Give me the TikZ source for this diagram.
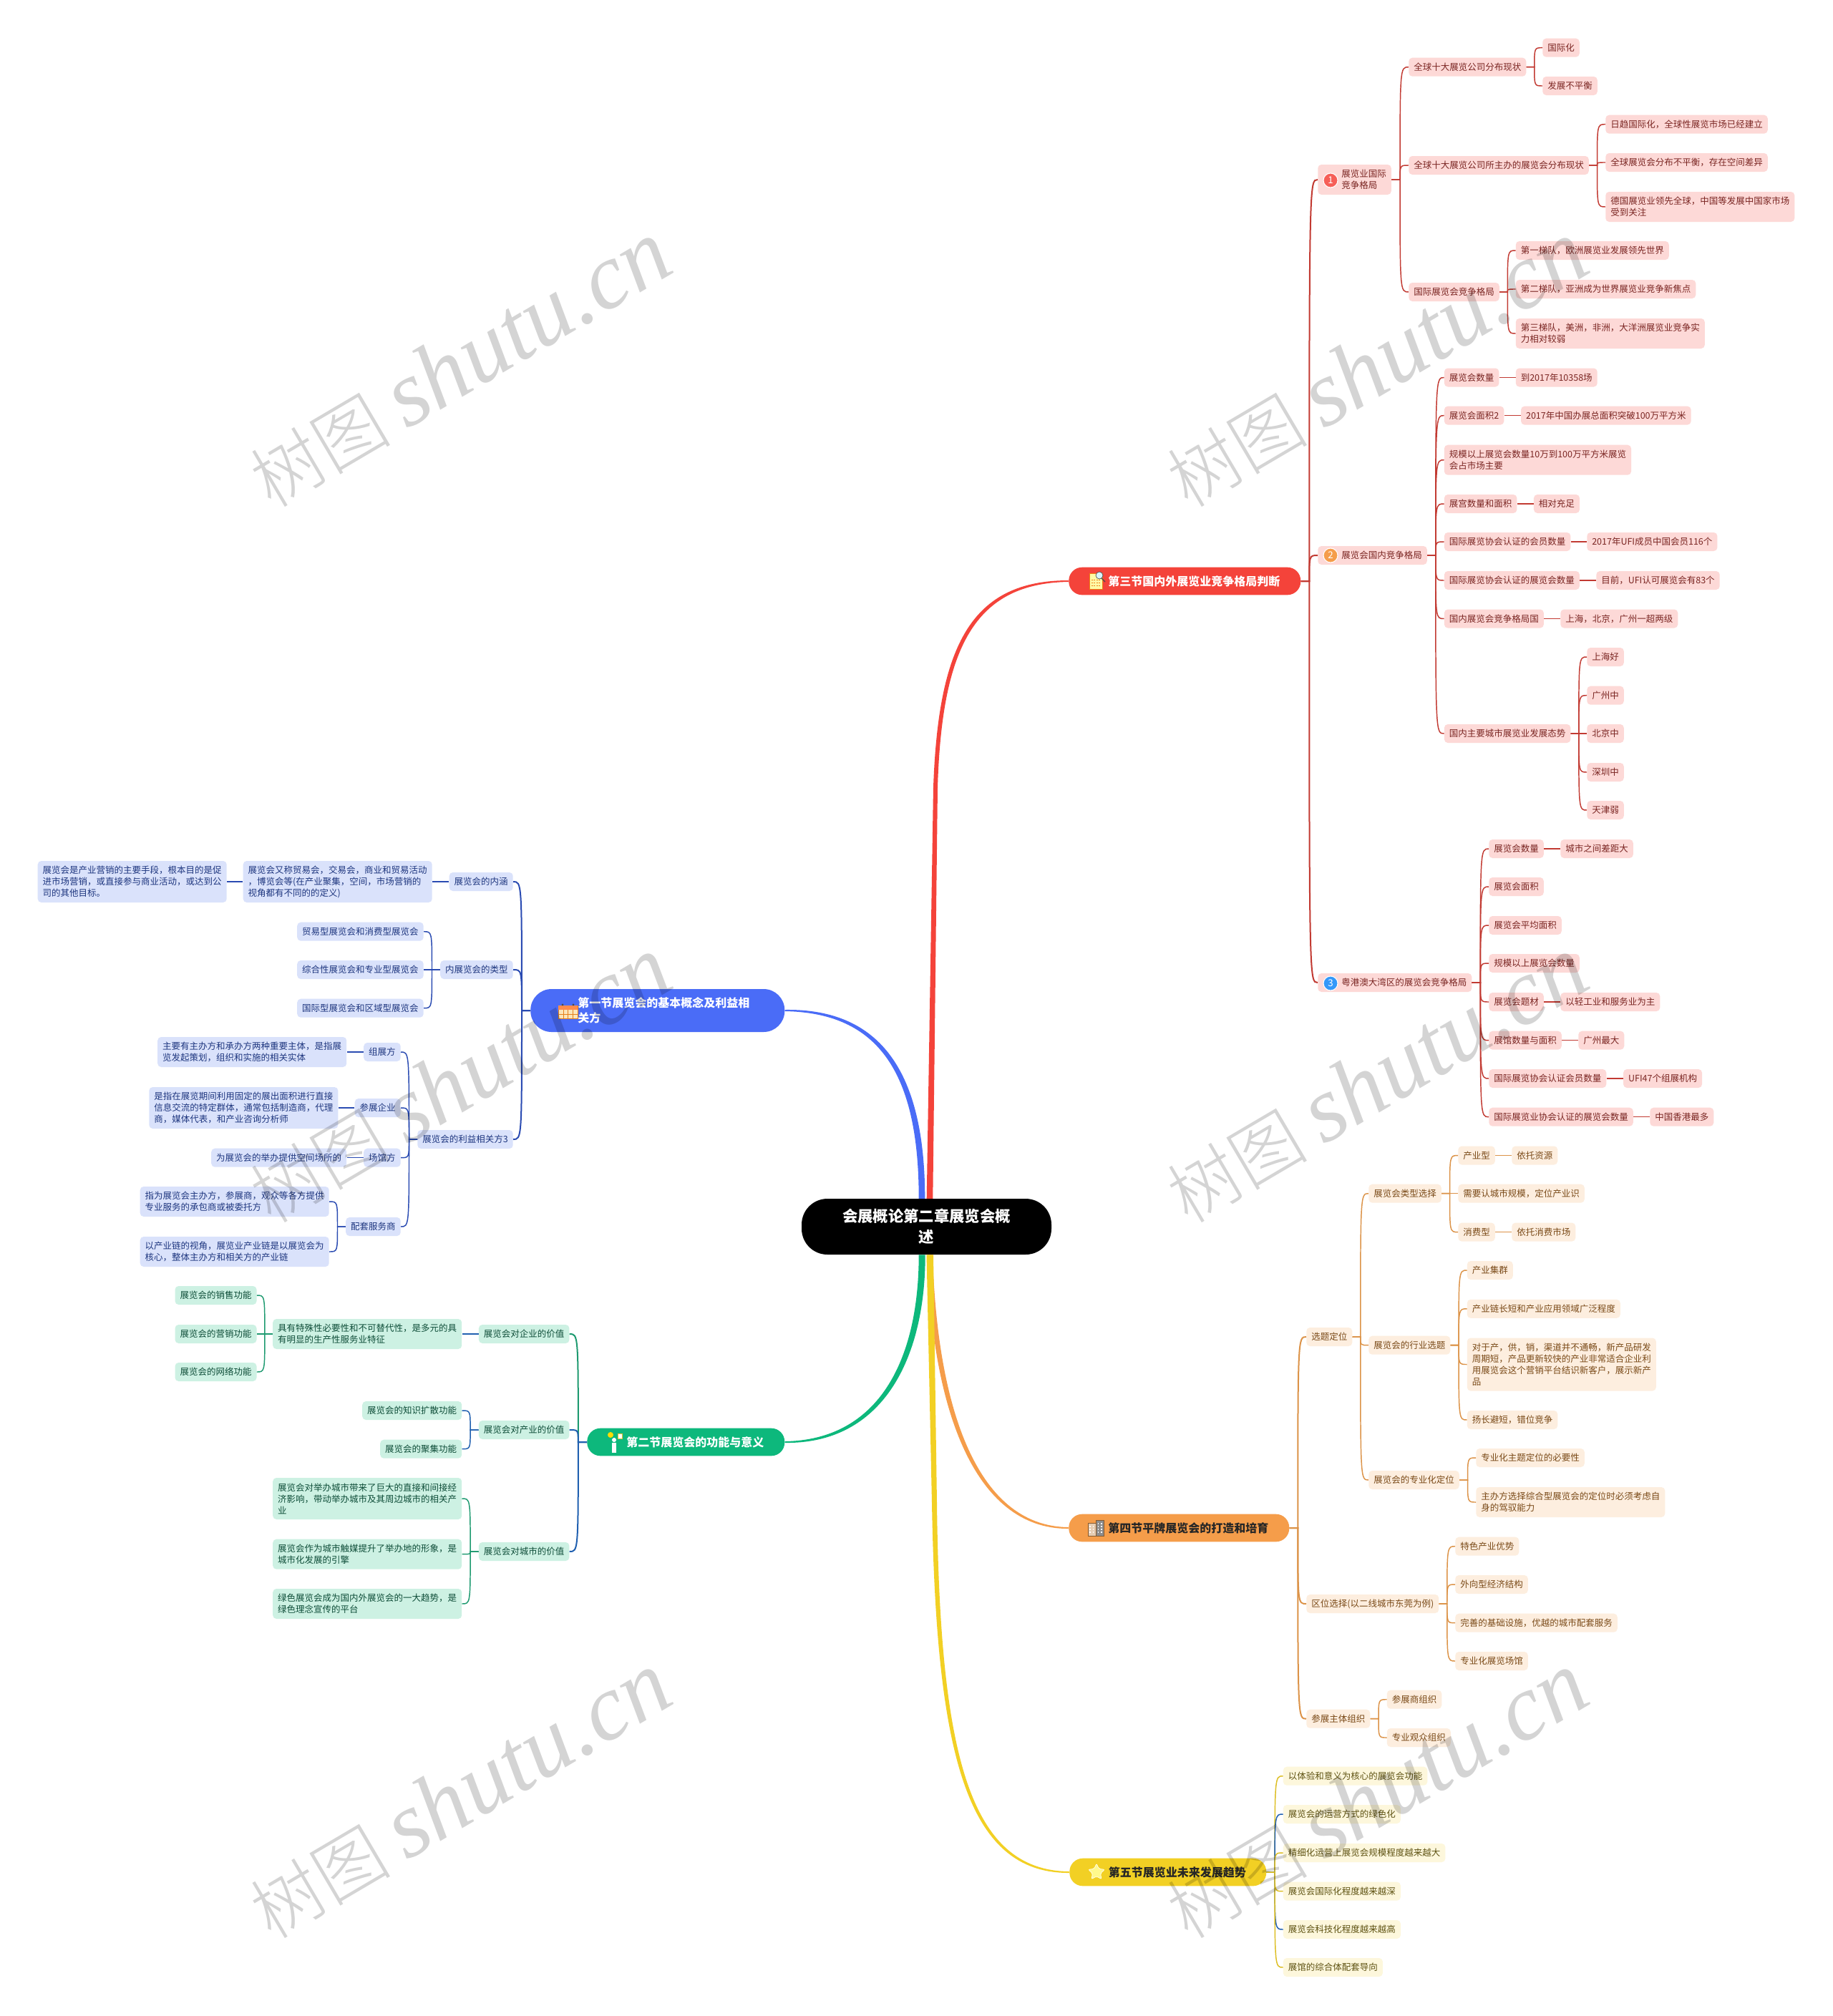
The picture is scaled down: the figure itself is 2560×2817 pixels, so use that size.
\documentclass[tikz,border=0pt]{standalone}
\usepackage{fontspec}
\setmainfont{Noto Sans CJK SC}
\newfontfamily\wmlatin{Liberation Serif}
\newfontfamily\wmcjk{Noto Sans CJK SC}[UprightFont=* Light]
\usetikzlibrary{calc,shapes.geometric}
\lineskiplimit=-20pt
\definecolor{redfill}{HTML}{FDD9D7}
\definecolor{redtext}{HTML}{7A2522}
\definecolor{redline}{HTML}{C23A32}
\definecolor{redmain}{HTML}{F4433A}
\definecolor{orangefill}{HTML}{FDEEDF}
\definecolor{orangetext}{HTML}{7A4A18}
\definecolor{orangeline}{HTML}{DC9348}
\definecolor{orangemain}{HTML}{F59D4A}
\definecolor{yellowfill}{HTML}{FDF7DC}
\definecolor{yellowtext}{HTML}{5E5212}
\definecolor{yellowline}{HTML}{DDBE22}
\definecolor{yellowmain}{HTML}{F2D024}
\definecolor{bluefill}{HTML}{DAE2FB}
\definecolor{bluetext}{HTML}{1E367F}
\definecolor{blueline}{HTML}{2A4BB2}
\definecolor{bluemain}{HTML}{4A6CF7}
\definecolor{navyline}{HTML}{2060B0}
\definecolor{greenfill}{HTML}{CDF1E3}
\definecolor{greentext}{HTML}{0E4D38}
\definecolor{greenline}{HTML}{1E9A70}
\definecolor{greenmain}{HTML}{0DB87C}
\newcommand{\rlink}[3]{%
  \path (#2.east) -- (#3.west |- #2.east) coordinate[midway] (mid);
  \draw [#1] (#2.east) -- (mid) .. controls (mid |- #3.west) and (mid |- #3.west) .. (#3.west);
}
\newcommand{\llink}[3]{%
  \path (#2.west) -- (#3.east |- #2.west) coordinate[midway] (mid);
  \draw [#1] (#2.west) -- (mid) .. controls (mid |- #3.east) and (mid |- #3.east) .. (#3.east);
}
\newcommand{\padicon}{\hspace*{19.5pt}}
\newcommand{\wmtext}{{\wmcjk 树图}\hspace{16pt}{\wmlatin\itshape\fontsize{98pt}{98pt}\selectfont shutu.cn}}
\begin{document}
\begin{tikzpicture}[x=0.75pt,y=0.75pt,yscale=-1,xscale=1,
    box/.style={rectangle,rounded corners=3.75pt,inner xsep=5.25pt,inner ysep=0pt,minimum height=19.5pt,align=left,font=\fontsize{9.375pt}{12pt}\selectfont},
    redbox/.style={box,anchor=west,fill=redfill,text=redtext},
    orangebox/.style={box,anchor=west,fill=orangefill,text=orangetext},
    yellowbox/.style={box,anchor=west,fill=yellowfill,text=yellowtext},
    bluebox/.style={box,anchor=east,fill=bluefill,text=bluetext},
    greenbox/.style={box,anchor=east,fill=greenfill,text=greentext},
    lines2/.style={minimum height=31.5pt},
    lines3/.style={minimum height=43.5pt},
    lines4/.style={minimum height=55.5pt},
    section/.style={rectangle,rounded corners=14pt,anchor=west,inner sep=0pt,minimum height=29pt,align=left,text=white,font=\fontsize{12pt}{15.75pt}\selectfont\bfseries},
    badge/.style={circle,draw=white,line width=0.8pt,inner sep=0pt,minimum size=15pt,text=white,font=\fontsize{10pt}{10pt}\selectfont},
    redlink/.style={line width=1.1pt,color=redline},
    orangelink/.style={line width=1.1pt,color=orangeline},
    yellowlink/.style={line width=1.1pt,color=yellowline},
    bluelink/.style={line width=1.1pt,color=blueline},
    greenlink/.style={line width=1.1pt,color=greenline},
    navylink/.style={line width=1.1pt,color=navyline},
    trunk/.style={line width=1.5pt},
    watermark/.style={rotate=30.5,inner sep=0pt,text=black,text opacity=0.17,font=\fontsize{74pt}{74pt}\selectfont}]
\useasboundingbox (0,0) rectangle (2560,2817);
\fill [white] (0,0) rectangle (2560,2817);
% centre and sections
\draw (1294.5,1714) node (root) [rectangle,rounded corners=27pt,fill=black,text=white,inner sep=0pt,minimum width=261.75pt,minimum height=58.5pt,align=center,font=\fontsize{16pt}{22pt}\selectfont\bfseries] {会展概论第二章展览会概\\述};
\draw (741,1412) node (secone) [section,rounded corners=22pt,fill=bluemain,minimum width=266.25pt,minimum height=45pt] {\hspace*{12.75pt}第一节展览会的基本概念及利益相\\\hspace*{12.75pt}关方};
\draw (820,2015) node (sectwo) [section,fill=greenmain,minimum width=207pt] {\hspace*{19.5pt}第二节展览会的功能与意义};
\draw (1493,812) node (secthree) [section,fill=redmain,minimum width=243pt] {\hspace*{19.5pt}第三节国内外展览业竞争格局判断};
\draw (1493,2135) node (secfour) [section,fill=orangemain,text=black!85,minimum width=231pt] {\hspace*{19.5pt}第四节平牌展览会的打造和培育};
\draw (1494,2616) node (secfive) [section,fill=yellowmain,text=black!85,minimum width=206.25pt] {\hspace*{19.5pt}第五节展览业未来发展趋势};
% red branch
\draw (1841,251) node (r1) [redbox,lines2] {\padicon 展览业国际\\\padicon 竞争格局};
\draw (1968,93.7) node (r1a) [redbox] {全球十大展览公司分布现状};
\draw (2155,66.7) node (r1a1) [redbox] {国际化};
\draw (2155,120) node (r1a2) [redbox] {发展不平衡};
\draw (1968,231) node (r1b) [redbox] {全球十大展览公司所主办的展览会分布现状};
\draw (2243,173.7) node (r1b1) [redbox] {日趋国际化，全球性展览市场已经建立};
\draw (2243,227) node (r1b2) [redbox] {全球展览会分布不平衡，存在空间差异};
\draw (2243,289) node (r1b3) [redbox,lines2] {德国展览业领先全球，中国等发展中国家市场\\受到关注};
\draw (1968,408) node (r1c) [redbox] {国际展览会竞争格局};
\draw (2117.5,350) node (r1c1) [redbox] {第一梯队，欧洲展览业发展领先世界};
\draw (2117.5,404) node (r1c2) [redbox] {第二梯队，亚洲成为世界展览业竞争新焦点};
\draw (2117.5,466) node (r1c3) [redbox,lines2] {第三梯队，美洲，非洲，大洋洲展览业竞争实\\力相对较弱};
\draw (1841,776) node (r2) [redbox] {\padicon 展览会国内竞争格局};
\draw (2017.6,527.5) node (r2a) [redbox] {展览会数量};
\draw (2117.5,527.5) node (r2a1) [redbox] {到2017年10358场};
\draw (2017.6,580.6) node (r2b) [redbox] {展览会面积2};
\draw (2124.8,580.6) node (r2b1) [redbox] {2017年中国办展总面积突破100万平方米};
\draw (2017.6,642.7) node (r2c) [redbox,lines2] {规模以上展览会数量10万到100万平方米展览\\会占市场主要};
\draw (2017.6,704) node (r2d) [redbox] {展宫数量和面积};
\draw (2142.7,704) node (r2d1) [redbox] {相对充足};
\draw (2017.6,757) node (r2e) [redbox] {国际展览协会认证的会员数量};
\draw (2217,757) node (r2e1) [redbox] {2017年UFI成员中国会员116个};
\draw (2017.6,811) node (r2f) [redbox] {国际展览协会认证的展览会数量};
\draw (2230,811) node (r2f1) [redbox] {目前，UFI认可展览会有83个};
\draw (2017.6,864.5) node (r2g) [redbox] {国内展览会竞争格局国};
\draw (2180,864.5) node (r2g1) [redbox] {上海，北京，广州一超两级};
\draw (2017.6,1025) node (r2h) [redbox] {国内主要城市展览业发展态势};
\draw (2217,918) node (r2h1) [redbox] {上海好};
\draw (2217,971.7) node (r2h2) [redbox] {广州中};
\draw (2217,1025) node (r2h3) [redbox] {北京中};
\draw (2217,1079) node (r2h4) [redbox] {深圳中};
\draw (2217,1132) node (r2h5) [redbox] {天津弱};
\draw (1841,1373) node (r3) [redbox] {\padicon 粤港澳大湾区的展览会竞争格局};
\draw (2080,1186) node (r3a) [redbox] {展览会数量};
\draw (2180,1186) node (r3a1) [redbox] {城市之间差距大};
\draw (2080,1239) node (r3b) [redbox] {展览会面积};
\draw (2080,1293) node (r3c) [redbox] {展览会平均面积};
\draw (2080,1346) node (r3d) [redbox] {规模以上展览会数量};
\draw (2080,1400) node (r3e) [redbox] {展览会题材};
\draw (2180,1400) node (r3e1) [redbox] {以轻工业和服务业为主};
\draw (2080,1453.7) node (r3f) [redbox] {展馆数量与面积};
\draw (2205,1453.7) node (r3f1) [redbox] {广州最大};
\draw (2080,1507) node (r3g) [redbox] {国际展览协会认证会员数量};
\draw (2267.8,1507) node (r3g1) [redbox] {UFI47个组展机构};
\draw (2080,1560.7) node (r3h) [redbox] {国际展览业协会认证的展览会数量};
\draw (2305,1560.7) node (r3h1) [redbox] {中国香港最多};
\draw (1859,252) node (badgeone) [badge,fill=redmain!85!white] {1};
\draw (1859,776) node (badgetwo) [badge,fill=orangemain] {2};
\draw (1859,1374) node (badgethree) [badge,fill=bluemain!70!cyan] {3};
% orange branch
\draw (1825,1868) node (o1) [orangebox] {选题定位};
\draw (1912,1667.7) node (o1a) [orangebox] {展览会类型选择};
\draw (2037,1614.5) node (o1a1) [orangebox] {产业型};
\draw (2112,1614.5) node (o1a1x) [orangebox] {依托资源};
\draw (2037,1667.7) node (o1a2) [orangebox] {需要认城市规模，定位产业识};
\draw (2037,1721.6) node (o1a3) [orangebox] {消费型};
\draw (2112,1721.6) node (o1a3x) [orangebox] {依托消费市场};
\draw (1912,1879.7) node (o1b) [orangebox] {展览会的行业选题};
\draw (2049.5,1775) node (o1b1) [orangebox] {产业集群};
\draw (2049.5,1828.8) node (o1b2) [orangebox] {产业链长短和产业应用领域广泛程度};
\draw (2049.5,1906.5) node (o1b3) [orangebox,lines4] {对于产，供，销，渠道并不通畅，新产品研发\\周期短，产品更新较快的产业非常适合企业利\\用展览会这个营销平台结识新客户，展示新产\\品};
\draw (2049.5,1984) node (o1b4) [orangebox] {扬长避短，错位竞争};
\draw (1912,2068) node (o1c) [orangebox] {展览会的专业化定位};
\draw (2062,2037) node (o1c1) [orangebox] {专业化主题定位的必要性};
\draw (2062,2099) node (o1c2) [orangebox,lines2] {主办方选择综合型展览会的定位时必须考虑自\\身的驾驭能力};
\draw (1825,2241) node (o2) [orangebox] {区位选择(以二线城市东莞为例)};
\draw (2033,2160.7) node (o2a) [orangebox] {特色产业优势};
\draw (2033,2214) node (o2b) [orangebox] {外向型经济结构};
\draw (2033,2267.7) node (o2c) [orangebox] {完善的基础设施，优越的城市配套服务};
\draw (2033,2321) node (o2d) [orangebox] {专业化展览场馆};
\draw (1825,2401.7) node (o3) [orangebox] {参展主体组织};
\draw (1937.5,2374.7) node (o3a) [orangebox] {参展商组织};
\draw (1937.5,2428) node (o3b) [orangebox] {专业观众组织};
% yellow branch
\draw (1792.6,2481.7) node (y1) [yellowbox] {以体验和意义为核心的展览会功能};
\draw (1792.6,2535) node (y2) [yellowbox] {展览会的运营方式的绿色化};
\draw (1792.6,2589) node (y3) [yellowbox] {精细化运营上展览会规模程度越来越大};
\draw (1792.6,2642.7) node (y4) [yellowbox] {展览会国际化程度越来越深};
\draw (1792.6,2696) node (y5) [yellowbox] {展览会科技化程度越来越高};
\draw (1792.6,2749) node (y6) [yellowbox] {展馆的综合体配套导向};
% blue branch
\draw (717,1232) node (b1) [bluebox] {展览会的内涵};
\draw (604,1232) node (b1a) [bluebox,lines3] {展览会又称贸易会，交易会，商业和贸易活动\\，博览会等(在产业聚集，空间，市场营销的\\视角都有不同的的定义)};
\draw (317,1232) node (b1a1) [bluebox,lines3] {展览会是产业营销的主要手段，根本目的是促\\进市场营销，或直接参与商业活动，或达到公\\司的其他目标。};
\draw (717,1355) node (b2) [bluebox] {内展览会的类型};
\draw (592,1301.7) node (b2a) [bluebox] {贸易型展览会和消费型展览会};
\draw (592,1355) node (b2b) [bluebox] {综合性展览会和专业型展览会};
\draw (592,1408.7) node (b2c) [bluebox] {国际型展览会和区域型展览会};
\draw (717,1592) node (b3) [bluebox] {展览会的利益相关方3};
\draw (560,1470) node (b3a) [bluebox] {组展方};
\draw (484.5,1470) node (b3a1) [bluebox,lines2] {主要有主办方和承办方两种重要主体，是指展\\览发起策划，组织和实施的相关实体};
\draw (560,1548) node (b3b) [bluebox] {参展企业};
\draw (472.6,1548) node (b3b1) [bluebox,lines3] {是指在展览期间利用固定的展出面积进行直接\\信息交流的特定群体，通常包括制造商，代理\\商，媒体代表，和产业咨询分析师};
\draw (560,1617.7) node (b3c) [bluebox] {场馆方};
\draw (484.5,1617.7) node (b3c1) [bluebox] {为展览会的举办提供空间场所的};
\draw (560,1714) node (b3d) [bluebox] {配套服务商};
\draw (460,1679) node (b3d1) [bluebox,lines2] {指为展览会主办方，参展商，观众等各方提供\\专业服务的承包商或被委托方};
\draw (460,1749) node (b3d2) [bluebox,lines2] {以产业链的视角，展览业产业链是以展览会为\\核心，整体主办方和相关方的产业链};
% green branch
\draw (795.7,1864) node (g1) [greenbox] {展览会对企业的价值};
\draw (645.5,1864) node (g1a) [greenbox,lines2] {具有特殊性必要性和不可替代性，是多元的具\\有明显的生产性服务业特征};
\draw (358.8,1810) node (g1a1) [greenbox] {展览会的销售功能};
\draw (358.8,1864) node (g1a2) [greenbox] {展览会的营销功能};
\draw (358.8,1917) node (g1a3) [greenbox] {展览会的网络功能};
\draw (795.7,1998) node (g2) [greenbox] {展览会对产业的价值};
\draw (645.5,1971) node (g2a) [greenbox] {展览会的知识扩散功能};
\draw (645.5,2024.7) node (g2b) [greenbox] {展览会的聚集功能};
\draw (795.7,2168) node (g3) [greenbox] {展览会对城市的价值};
\draw (645.5,2094) node (g3a) [greenbox,lines3] {展览会对举办城市带来了巨大的直接和间接经\\济影响，带动举办城市及其周边城市的相关产\\业};
\draw (645.5,2171.7) node (g3b) [greenbox,lines2] {展览会作为城市触媒提升了举办地的形象，是\\城市化发展的引擎};
\draw (645.5,2241) node (g3c) [greenbox,lines2] {绿色展览会成为国内外展览会的一大趋势，是\\绿色理念宣传的平台};
% tapered main links
\fill [color=orangemain] ($(root.south)+(1.5,0)$) .. controls (1301,1960) and (1358,2137) .. ($(secfour.west)+(0,1)$) -- ($(secfour.west)+(0,-1)$) .. controls (1362,2133) and (1309,1960) .. ($(root.south)+(8.5,0)$) -- cycle;
\fill [color=yellowmain] ($(root.south)+(0,0)$) -- (1302,2100) .. controls (1308,2450) and (1350,2618) .. ($(secfive.west)+(0,1)$) -- ($(secfive.west)+(0,-1)$) .. controls (1354,2614) and (1313,2450) .. (1309,2100) -- ($(root.south)+(9.5,0)$) -- cycle;
\fill [color=bluemain] ($(secone.east)+(0,1)$) .. controls (1228,1415) and (1283.7,1500) .. ($(root.north)+(-10.8,0)$) -- ($(root.north)+(-2.2,0)$) .. controls (1292.3,1500) and (1232,1409) .. ($(secone.east)+(0,-1)$) -- cycle;
\fill [color=greenmain] ($(sectwo.east)+(0,-1)$) .. controls (1228,2012) and (1283.7,1900) .. ($(root.south)+(-10.8,0)$) -- ($(root.south)+(-1.8,0)$) .. controls (1293,1900) and (1232,2018) .. ($(sectwo.east)+(0,1)$) -- cycle;
\fill [color=redmain] ($(root.north)+(0.2,0)$) -- (1304,1100) .. controls (1311,900) and (1358,811) .. ($(secthree.west)+(0,-1)$) -- ($(secthree.west)+(0,1)$) .. controls (1362,815) and (1316,904) .. (1310,1100) -- ($(root.north)+(8.8,0)$) -- cycle;
% links
\rlink{redlink,trunk}{secthree}{r1}
\rlink{redlink,trunk}{secthree}{r2}
\rlink{redlink,trunk}{secthree}{r3}
\rlink{redlink}{r1}{r1a}
\rlink{redlink}{r1}{r1b}
\rlink{redlink}{r1}{r1c}
\rlink{redlink}{r1a}{r1a1}
\rlink{redlink}{r1a}{r1a2}
\rlink{redlink}{r1b}{r1b1}
\rlink{redlink}{r1b}{r1b2}
\rlink{redlink}{r1b}{r1b3}
\rlink{redlink}{r1c}{r1c1}
\rlink{redlink}{r1c}{r1c2}
\rlink{redlink}{r1c}{r1c3}
\rlink{redlink}{r2}{r2a}
\rlink{redlink}{r2}{r2b}
\rlink{redlink}{r2}{r2c}
\rlink{redlink}{r2}{r2d}
\rlink{redlink}{r2}{r2e}
\rlink{redlink}{r2}{r2f}
\rlink{redlink}{r2}{r2g}
\rlink{redlink}{r2}{r2h}
\rlink{redlink}{r2a}{r2a1}
\rlink{redlink}{r2b}{r2b1}
\rlink{redlink}{r2d}{r2d1}
\rlink{redlink}{r2e}{r2e1}
\rlink{redlink}{r2f}{r2f1}
\rlink{redlink}{r2g}{r2g1}
\rlink{redlink}{r2h}{r2h1}
\rlink{redlink}{r2h}{r2h2}
\rlink{redlink}{r2h}{r2h3}
\rlink{redlink}{r2h}{r2h4}
\rlink{redlink}{r2h}{r2h5}
\rlink{redlink}{r3}{r3a}
\rlink{redlink}{r3}{r3b}
\rlink{redlink}{r3}{r3c}
\rlink{redlink}{r3}{r3d}
\rlink{redlink}{r3}{r3e}
\rlink{redlink}{r3}{r3f}
\rlink{redlink}{r3}{r3g}
\rlink{redlink}{r3}{r3h}
\rlink{redlink}{r3a}{r3a1}
\rlink{redlink}{r3e}{r3e1}
\rlink{redlink}{r3f}{r3f1}
\rlink{redlink}{r3g}{r3g1}
\rlink{redlink}{r3h}{r3h1}
\rlink{orangelink,trunk}{secfour}{o1}
\rlink{orangelink,trunk}{secfour}{o2}
\rlink{orangelink,trunk}{secfour}{o3}
\rlink{orangelink}{o1}{o1a}
\rlink{orangelink}{o1}{o1b}
\rlink{orangelink}{o1}{o1c}
\rlink{orangelink}{o1a}{o1a1}
\rlink{orangelink}{o1a}{o1a2}
\rlink{orangelink}{o1a}{o1a3}
\rlink{orangelink}{o1a1}{o1a1x}
\rlink{orangelink}{o1a3}{o1a3x}
\rlink{orangelink}{o1b}{o1b1}
\rlink{orangelink}{o1b}{o1b2}
\rlink{orangelink}{o1b}{o1b3}
\rlink{orangelink}{o1b}{o1b4}
\rlink{orangelink}{o1c}{o1c1}
\rlink{orangelink}{o1c}{o1c2}
\rlink{orangelink}{o2}{o2a}
\rlink{orangelink}{o2}{o2b}
\rlink{orangelink}{o2}{o2c}
\rlink{orangelink}{o2}{o2d}
\rlink{orangelink}{o3}{o3a}
\rlink{orangelink}{o3}{o3b}
\rlink{yellowlink}{secfive}{y1}
\rlink{navylink}{secfive}{y2}
\rlink{yellowlink}{secfive}{y3}
\rlink{yellowlink}{secfive}{y4}
\rlink{navylink}{secfive}{y5}
\rlink{yellowlink}{secfive}{y6}
\llink{bluelink,trunk}{secone}{b1}
\llink{bluelink,trunk}{secone}{b2}
\llink{bluelink,trunk}{secone}{b3}
\llink{bluelink}{b1}{b1a}
\llink{bluelink}{b1a}{b1a1}
\llink{bluelink}{b2}{b2a}
\llink{bluelink}{b2}{b2b}
\llink{bluelink}{b2}{b2c}
\llink{bluelink}{b3}{b3a}
\llink{bluelink}{b3}{b3b}
\llink{bluelink}{b3}{b3c}
\llink{bluelink}{b3}{b3d}
\llink{bluelink}{b3a}{b3a1}
\llink{bluelink}{b3b}{b3b1}
\llink{bluelink}{b3c}{b3c1}
\llink{bluelink}{b3d}{b3d1}
\llink{bluelink}{b3d}{b3d2}
\llink{greenlink,trunk}{sectwo}{g1}
\llink{navylink,trunk}{sectwo}{g2}
\llink{navylink,trunk}{sectwo}{g3}
\llink{navylink}{g1}{g1a}
\llink{greenlink}{g1a}{g1a1}
\llink{greenlink}{g1a}{g1a2}
\llink{greenlink}{g1a}{g1a3}
\llink{navylink}{g2}{g2a}
\llink{navylink}{g2}{g2b}
\llink{greenlink}{g3}{g3a}
\llink{greenlink}{g3}{g3b}
\llink{greenlink}{g3}{g3c}
% section icons
\draw [color=orange!60!brown,fill=yellow!30!orange!25] (780,1405) rectangle (807,1423);
\fill [color=orange!70!red!70] (780,1405) rectangle (807,1411);
\draw [color=orange!60!brown,line width=0.3pt] (786.7,1411) -- (786.7,1423) (793.5,1411) -- (793.5,1423) (800.2,1411) -- (800.2,1423) (780,1417) -- (807,1417);
\fill [color=black!70] (786,1404) circle (1.6) (801,1404) circle (1.6);
\fill [color=yellow!80!orange] (853,2005) circle (4);
\fill [color=white] (858,2012) circle (3);
\fill [color=white] (855,2016) rectangle (861,2030);
\draw [color=yellow!50!brown,fill=white,line width=0.4pt] (863,2003) rectangle (869,2010);
\draw [color=orange!70!brown,fill=yellow!35] (1522,801) rectangle (1540,823);
\draw [color=orange!70!brown,line width=0.5pt,dash pattern=on 1.5pt off 1pt] (1525,810) -- (1538,810) (1525,814) -- (1538,814) (1525,818) -- (1538,818);
\draw [color=black!70,line width=1pt] (1537,806) -- (1544,813);
\draw [color=black!70,fill=cyan!15,line width=0.5pt] (1536,804) circle (5);
\draw [color=brown!70!black,fill=brown!40!white,line width=0.4pt] (1520,2128) rectangle (1531,2146);
\draw [color=brown!70!black,fill=black!45!white,line width=0.4pt] (1531,2124) rectangle (1542,2146);
\draw [color=white,line width=0.8pt,dash pattern=on 1.5pt off 1.5pt] (1523,2132) -- (1523,2144) (1527.5,2132) -- (1527.5,2144) (1534.5,2128) -- (1534.5,2144) (1539,2128) -- (1539,2144);
\draw (1532,2616) node (starmark) [star,star points=5,star point ratio=2.1,rounded corners=1.5pt,fill=yellow!45!white,draw=white,line width=0.5pt,inner sep=0pt,minimum size=18pt] {};
% marks across the sheet
\draw (642,509) node (wma) [watermark] {\wmtext};
\draw (1923,509) node (wmb) [watermark] {\wmtext};
\draw (642,1509) node (wmc) [watermark] {\wmtext};
\draw (1923,1509) node (wmd) [watermark] {\wmtext};
\draw (642,2509) node (wme) [watermark] {\wmtext};
\draw (1923,2509) node (wmf) [watermark] {\wmtext};
\end{tikzpicture}
\end{document}
